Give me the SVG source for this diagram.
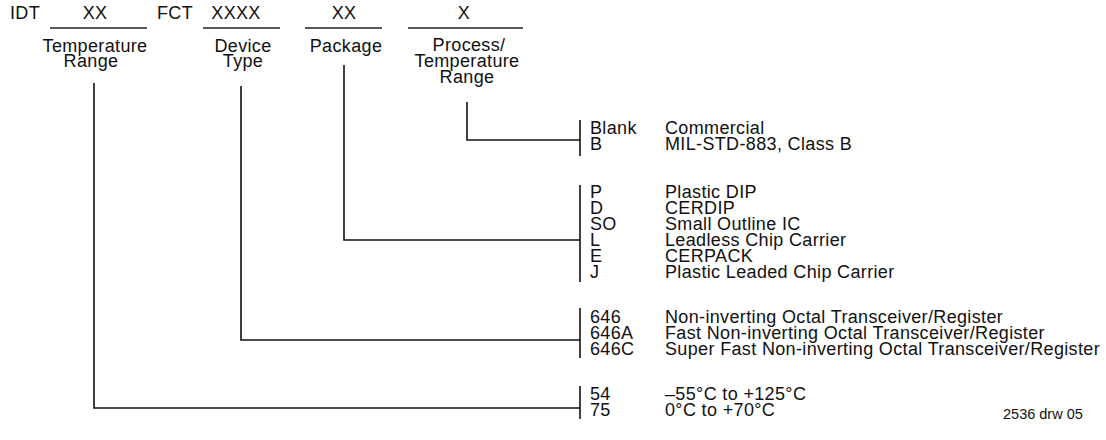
<svg xmlns="http://www.w3.org/2000/svg" width="1106" height="440" viewBox="0 0 1106 440">
<style>
text{font-family:"Liberation Sans",Arial,sans-serif;font-size:18px;letter-spacing:0.35px;fill:#111}
.c{text-anchor:middle}
.ln{stroke:#111;stroke-width:1.6;fill:none}
.ul{stroke:#222;stroke-width:1.3}
.sm{font-size:14.5px;letter-spacing:0}
</style>
<rect width="1106" height="440" fill="#fff"/>
<g id="header">
<text x="10" y="19">IDT</text>
<text x="95" y="19" class="c">XX</text>
<text x="157" y="19">FCT</text>
<text x="236" y="19" class="c">XXXX</text>
<text x="344" y="19" class="c">XX</text>
<text x="464" y="19" class="c">X</text>
<line class="ul" x1="50" y1="28" x2="147" y2="28"/>
<line class="ul" x1="203" y1="28" x2="280" y2="28"/>
<line class="ul" x1="305" y1="28" x2="382" y2="28"/>
<line class="ul" x1="408" y1="28" x2="523" y2="28"/>
</g>
<g id="field-temp">
<text x="95" y="52" class="c">Temperature</text>
<text x="91" y="67" class="c">Range</text>
</g>
<g id="field-device">
<text x="243" y="52" class="c">Device</text>
<text x="243" y="67" class="c">Type</text>
</g>
<g id="field-package">
<text x="346" y="52" class="c">Package</text>
</g>
<g id="field-process">
<text x="469" y="51" class="c">Process/</text>
<text x="467" y="67" class="c">Temperature</text>
<text x="467" y="83" class="c">Range</text>
</g>
<g id="connectors">
<polyline class="ln" points="467,102 467,140 580,140"/>
<polyline class="ln" points="344,65 344,240 580,240"/>
<polyline class="ln" points="241,86 241,340 580,340"/>
<polyline class="ln" points="94,83 94,408 580,408"/>
<line class="ln" x1="580" y1="120" x2="580" y2="156"/>
<line class="ln" x1="580" y1="185" x2="580" y2="282"/>
<line class="ln" x1="580" y1="308" x2="580" y2="358"/>
<line class="ln" x1="580" y1="386" x2="580" y2="419"/>
</g>
<g id="opt-process">
<text x="590" y="134">Blank</text><text x="665" y="134">Commercial</text>
<text x="590" y="150">B</text><text x="665" y="150">MIL-STD-883, Class B</text>
</g>
<g id="opt-package">
<text x="590" y="198">P</text><text x="665" y="198">Plastic DIP</text>
<text x="590" y="214">D</text><text x="665" y="214">CERDIP</text>
<text x="590" y="230">SO</text><text x="665" y="230">Small Outline IC</text>
<text x="590" y="246">L</text><text x="665" y="246">Leadless Chip Carrier</text>
<text x="590" y="262">E</text><text x="665" y="262">CERPACK</text>
<text x="590" y="278">J</text><text x="665" y="278">Plastic Leaded Chip Carrier</text>
</g>
<g id="opt-device">
<text x="590" y="323">646</text><text x="665" y="323">Non-inverting Octal Transceiver/Register</text>
<text x="590" y="339">646A</text><text x="665" y="339">Fast Non-inverting Octal Transceiver/Register</text>
<text x="590" y="355">646C</text><text x="665" y="355">Super Fast Non-inverting Octal Transceiver/Register</text>
</g>
<g id="opt-temp">
<text x="590" y="400">54</text><text x="665" y="400">–55°C to +125°C</text>
<text x="590" y="416">75</text><text x="665" y="416">0°C to +70°C</text>
</g>
<g id="footer">
<text x="1003" y="419" class="sm">2536 drw 05</text>
</g>
</svg>
